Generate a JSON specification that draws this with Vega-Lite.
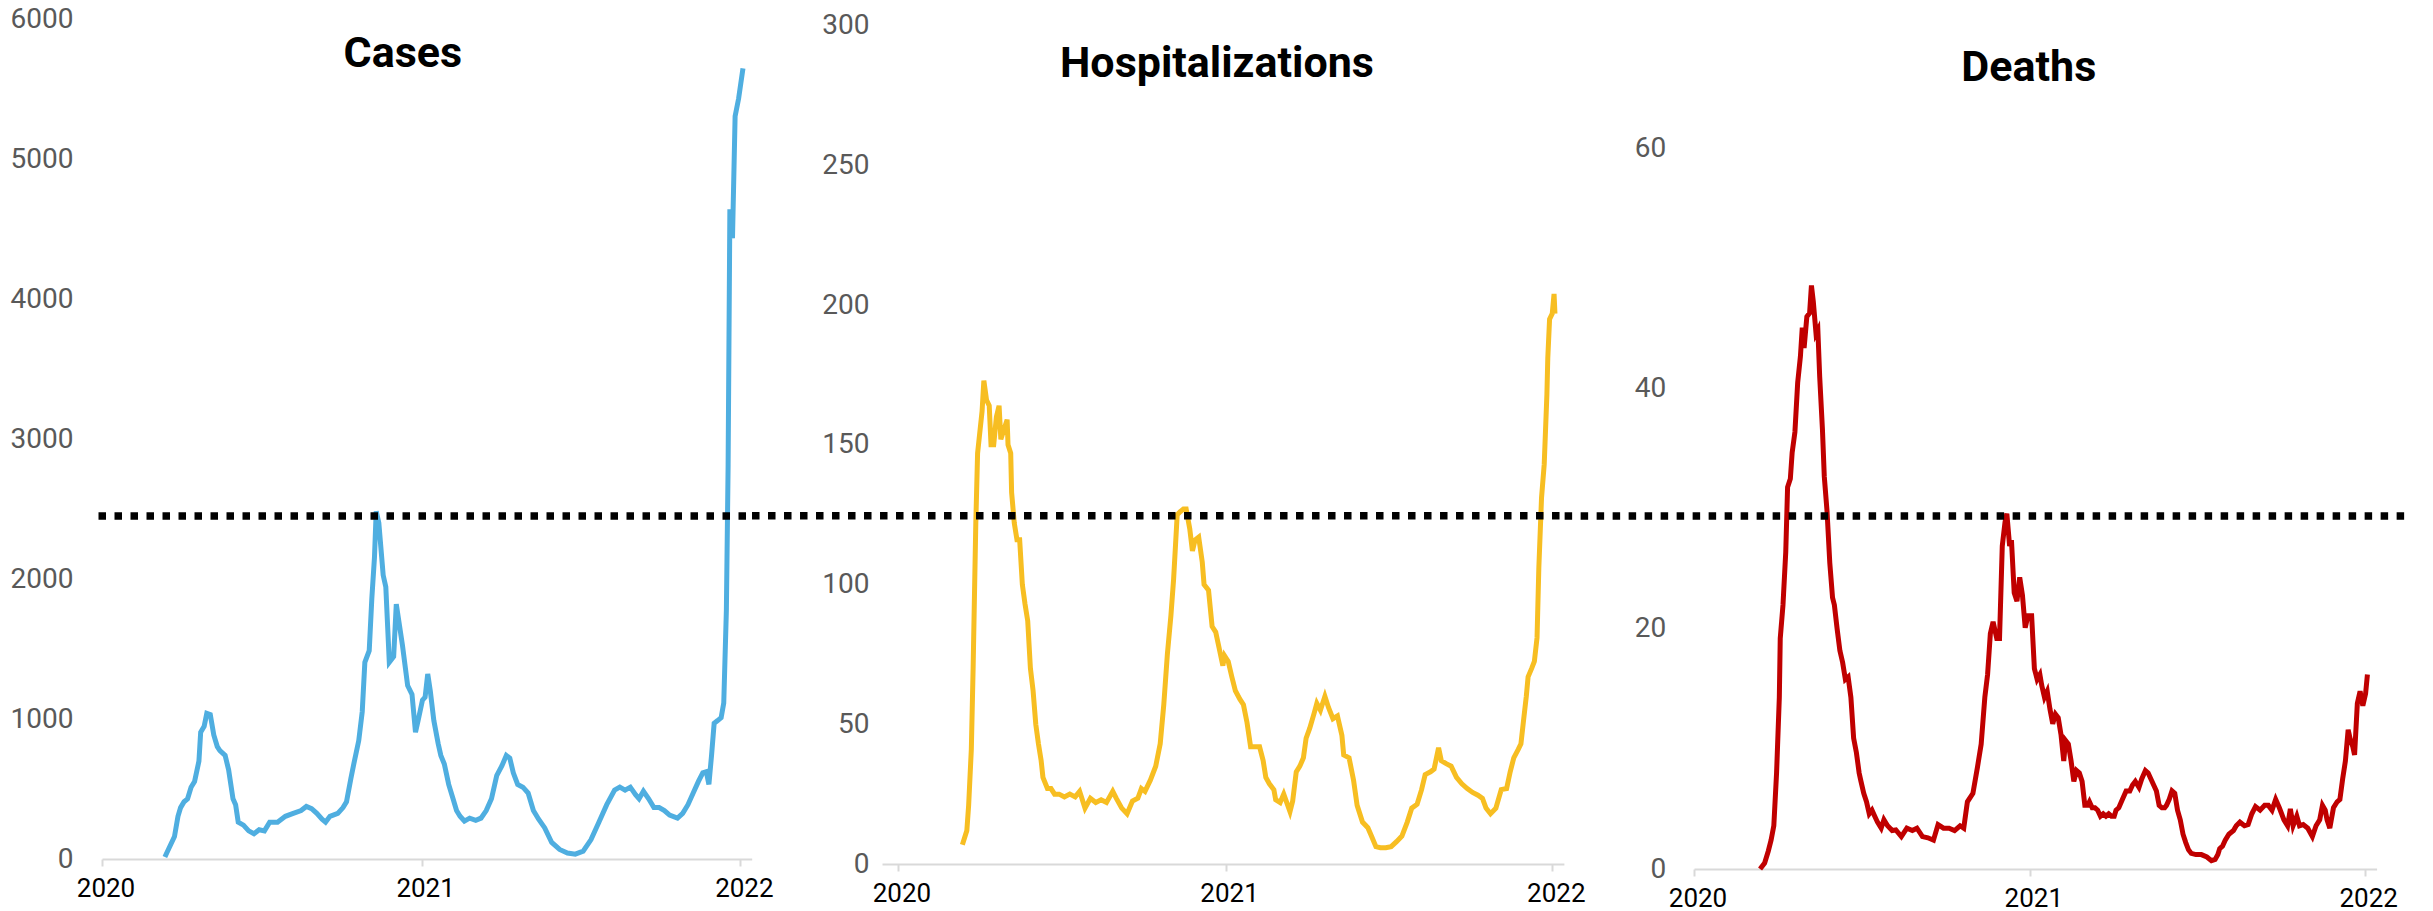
{
  "$schema": "https://vega.github.io/schema/vega-lite/v6.json",
  "background": "white",
  "padding": {"left": 10, "top": 5, "right": 5, "bottom": 5},
  "spacing": 130,
  "bounds": "flush",
  "config": {
    "view": {"stroke": null},
    "font": "Roboto",
    "axisX": {"domainColor": "#d9d9d9", "domainWidth": 2, "tickColor": "#d9d9d9", "tickWidth": 2, "tickSize": 7, "labelFontSize": 26, "labelColor": "#000000", "labelFlush": false, "labelPadding": 9, "labelOffset": 3.5, "grid": false, "format": "%Y", "labelFont": "Roboto"},
    "axisY": {"domain": false, "ticks": false, "grid": false, "labelFontSize": 28, "labelColor": "#595959", "labelFont": "Roboto", "format": "d"},
    "title": {"font": "Roboto", "fontSize": 43, "fontWeight": "bold", "color": "#000000", "anchor": "middle", "frame": "group", "baseline": "alphabetic", "offset": 0}
  },
  "datasets": {
    "thresholds": [
      {"panel": "Cases", "start": "2019-12-28", "end": "2022-01-14", "level": 2450.7},
      {"panel": "Hospitalizations", "start": "2019-07-22", "end": "2022-01-14", "level": 124.6},
      {"panel": "Deaths", "start": "2019-08-13", "end": "2022-02-16", "level": 29.41}
    ],
    "cases": [
      {"date": "2020-03-13", "value": 14}, {"date": "2020-03-17", "value": 68}, {"date": "2020-03-24", "value": 160}, {"date": "2020-03-28", "value": 305},
      {"date": "2020-03-31", "value": 367}, {"date": "2020-04-04", "value": 409}, {"date": "2020-04-08", "value": 430}, {"date": "2020-04-12", "value": 513},
      {"date": "2020-04-16", "value": 554}, {"date": "2020-04-21", "value": 699}, {"date": "2020-04-23", "value": 906}, {"date": "2020-04-27", "value": 948},
      {"date": "2020-04-30", "value": 1040}, {"date": "2020-05-04", "value": 1031}, {"date": "2020-05-08", "value": 886}, {"date": "2020-05-12", "value": 803},
      {"date": "2020-05-15", "value": 774}, {"date": "2020-05-21", "value": 740}, {"date": "2020-05-25", "value": 637}, {"date": "2020-05-27", "value": 554},
      {"date": "2020-05-30", "value": 430}, {"date": "2020-06-02", "value": 388}, {"date": "2020-06-05", "value": 263}, {"date": "2020-06-11", "value": 242},
      {"date": "2020-06-17", "value": 201}, {"date": "2020-06-23", "value": 180}, {"date": "2020-06-29", "value": 209}, {"date": "2020-07-05", "value": 201},
      {"date": "2020-07-11", "value": 263}, {"date": "2020-07-20", "value": 263}, {"date": "2020-07-29", "value": 305}, {"date": "2020-08-07", "value": 326},
      {"date": "2020-08-16", "value": 346}, {"date": "2020-08-22", "value": 375}, {"date": "2020-08-28", "value": 359}, {"date": "2020-09-03", "value": 326},
      {"date": "2020-09-09", "value": 284}, {"date": "2020-09-13", "value": 263}, {"date": "2020-09-18", "value": 305}, {"date": "2020-09-27", "value": 326},
      {"date": "2020-10-03", "value": 367}, {"date": "2020-10-07", "value": 409}, {"date": "2020-10-12", "value": 575}, {"date": "2020-10-16", "value": 699},
      {"date": "2020-10-21", "value": 845}, {"date": "2020-10-25", "value": 1052}, {"date": "2020-10-28", "value": 1405}, {"date": "2020-11-02", "value": 1488},
      {"date": "2020-11-05", "value": 1861}, {"date": "2020-11-08", "value": 2152}, {"date": "2020-11-10", "value": 2484}, {"date": "2020-11-13", "value": 2400},
      {"date": "2020-11-18", "value": 2027}, {"date": "2020-11-21", "value": 1944}, {"date": "2020-11-25", "value": 1405}, {"date": "2020-11-30", "value": 1446},
      {"date": "2020-12-03", "value": 1820}, {"date": "2020-12-06", "value": 1695}, {"date": "2020-12-10", "value": 1529}, {"date": "2020-12-16", "value": 1239},
      {"date": "2020-12-21", "value": 1176}, {"date": "2020-12-25", "value": 906}, {"date": "2020-12-28", "value": 989}, {"date": "2021-01-02", "value": 1135},
      {"date": "2021-01-05", "value": 1156}, {"date": "2021-01-08", "value": 1322}, {"date": "2021-01-11", "value": 1197}, {"date": "2021-01-15", "value": 989},
      {"date": "2021-01-20", "value": 823}, {"date": "2021-01-23", "value": 740}, {"date": "2021-01-27", "value": 678}, {"date": "2021-02-01", "value": 533},
      {"date": "2021-02-06", "value": 430}, {"date": "2021-02-10", "value": 346}, {"date": "2021-02-14", "value": 305}, {"date": "2021-02-19", "value": 271},
      {"date": "2021-02-25", "value": 292}, {"date": "2021-03-04", "value": 276}, {"date": "2021-03-10", "value": 292}, {"date": "2021-03-16", "value": 346},
      {"date": "2021-03-22", "value": 430}, {"date": "2021-03-28", "value": 595}, {"date": "2021-04-03", "value": 666}, {"date": "2021-04-08", "value": 740},
      {"date": "2021-04-12", "value": 720}, {"date": "2021-04-16", "value": 616}, {"date": "2021-04-21", "value": 533}, {"date": "2021-04-27", "value": 513},
      {"date": "2021-05-03", "value": 471}, {"date": "2021-05-09", "value": 346}, {"date": "2021-05-15", "value": 284}, {"date": "2021-05-22", "value": 222},
      {"date": "2021-05-30", "value": 118}, {"date": "2021-06-08", "value": 68}, {"date": "2021-06-17", "value": 43}, {"date": "2021-06-26", "value": 35},
      {"date": "2021-07-05", "value": 56}, {"date": "2021-07-14", "value": 139}, {"date": "2021-07-23", "value": 263}, {"date": "2021-08-01", "value": 388},
      {"date": "2021-08-10", "value": 492}, {"date": "2021-08-16", "value": 513}, {"date": "2021-08-22", "value": 492}, {"date": "2021-08-28", "value": 513},
      {"date": "2021-09-03", "value": 459}, {"date": "2021-09-07", "value": 430}, {"date": "2021-09-12", "value": 484}, {"date": "2021-09-18", "value": 430},
      {"date": "2021-09-24", "value": 367}, {"date": "2021-09-30", "value": 367}, {"date": "2021-10-06", "value": 346}, {"date": "2021-10-12", "value": 313},
      {"date": "2021-10-21", "value": 292}, {"date": "2021-10-27", "value": 326}, {"date": "2021-11-02", "value": 388}, {"date": "2021-11-08", "value": 471},
      {"date": "2021-11-14", "value": 554}, {"date": "2021-11-19", "value": 616}, {"date": "2021-11-23", "value": 624}, {"date": "2021-11-26", "value": 533},
      {"date": "2021-11-29", "value": 740}, {"date": "2021-12-02", "value": 969}, {"date": "2021-12-06", "value": 989}, {"date": "2021-12-10", "value": 1010},
      {"date": "2021-12-13", "value": 1114}, {"date": "2021-12-16", "value": 1778}, {"date": "2021-12-18", "value": 2815}, {"date": "2021-12-20", "value": 4641},
      {"date": "2021-12-23", "value": 4434}, {"date": "2021-12-26", "value": 5306}, {"date": "2021-12-30", "value": 5431}, {"date": "2022-01-04", "value": 5647}
    ],
    "hosp": [
      {"date": "2020-03-13", "value": 6.9}, {"date": "2020-03-18", "value": 12}, {"date": "2020-03-20", "value": 21}, {"date": "2020-03-23", "value": 41},
      {"date": "2020-03-25", "value": 70}, {"date": "2020-03-28", "value": 122}, {"date": "2020-03-30", "value": 147}, {"date": "2020-04-02", "value": 156},
      {"date": "2020-04-04", "value": 162}, {"date": "2020-04-06", "value": 173}, {"date": "2020-04-09", "value": 166}, {"date": "2020-04-12", "value": 164},
      {"date": "2020-04-14", "value": 150}, {"date": "2020-04-17", "value": 150}, {"date": "2020-04-20", "value": 160}, {"date": "2020-04-23", "value": 164},
      {"date": "2020-04-25", "value": 152}, {"date": "2020-04-29", "value": 156}, {"date": "2020-05-02", "value": 159}, {"date": "2020-05-03", "value": 150},
      {"date": "2020-05-06", "value": 147}, {"date": "2020-05-07", "value": 133}, {"date": "2020-05-10", "value": 122}, {"date": "2020-05-13", "value": 116},
      {"date": "2020-05-16", "value": 116}, {"date": "2020-05-19", "value": 100}, {"date": "2020-05-22", "value": 93}, {"date": "2020-05-25", "value": 87},
      {"date": "2020-05-28", "value": 70}, {"date": "2020-05-31", "value": 62}, {"date": "2020-06-03", "value": 50}, {"date": "2020-06-06", "value": 43},
      {"date": "2020-06-09", "value": 37}, {"date": "2020-06-11", "value": 31}, {"date": "2020-06-16", "value": 27}, {"date": "2020-06-20", "value": 27},
      {"date": "2020-06-24", "value": 25}, {"date": "2020-06-29", "value": 25}, {"date": "2020-07-05", "value": 24}, {"date": "2020-07-11", "value": 25},
      {"date": "2020-07-17", "value": 24}, {"date": "2020-07-22", "value": 26}, {"date": "2020-07-28", "value": 20}, {"date": "2020-08-03", "value": 23.5},
      {"date": "2020-08-09", "value": 22}, {"date": "2020-08-15", "value": 23}, {"date": "2020-08-21", "value": 22}, {"date": "2020-08-28", "value": 26},
      {"date": "2020-09-01", "value": 23.5}, {"date": "2020-09-07", "value": 20}, {"date": "2020-09-13", "value": 18}, {"date": "2020-09-19", "value": 22.5},
      {"date": "2020-09-25", "value": 23.5}, {"date": "2020-09-29", "value": 27}, {"date": "2020-10-03", "value": 26}, {"date": "2020-10-09", "value": 30},
      {"date": "2020-10-15", "value": 35}, {"date": "2020-10-20", "value": 43}, {"date": "2020-10-24", "value": 57}, {"date": "2020-10-28", "value": 75},
      {"date": "2020-11-01", "value": 89}, {"date": "2020-11-04", "value": 102}, {"date": "2020-11-08", "value": 125}, {"date": "2020-11-11", "value": 126},
      {"date": "2020-11-15", "value": 127}, {"date": "2020-11-18", "value": 127}, {"date": "2020-11-22", "value": 120}, {"date": "2020-11-25", "value": 112},
      {"date": "2020-11-28", "value": 116}, {"date": "2020-12-02", "value": 117}, {"date": "2020-12-06", "value": 108}, {"date": "2020-12-08", "value": 100},
      {"date": "2020-12-13", "value": 98}, {"date": "2020-12-17", "value": 85}, {"date": "2020-12-21", "value": 83}, {"date": "2020-12-25", "value": 77},
      {"date": "2020-12-29", "value": 71}, {"date": "2020-12-31", "value": 74.5}, {"date": "2021-01-04", "value": 72.5}, {"date": "2021-01-08", "value": 67},
      {"date": "2021-01-12", "value": 62}, {"date": "2021-01-17", "value": 59}, {"date": "2021-01-21", "value": 57}, {"date": "2021-01-25", "value": 50.6},
      {"date": "2021-01-29", "value": 42}, {"date": "2021-02-03", "value": 42}, {"date": "2021-02-08", "value": 42}, {"date": "2021-02-12", "value": 37},
      {"date": "2021-02-15", "value": 31}, {"date": "2021-02-19", "value": 28.7}, {"date": "2021-02-24", "value": 26.6}, {"date": "2021-02-26", "value": 23},
      {"date": "2021-03-03", "value": 22}, {"date": "2021-03-07", "value": 25}, {"date": "2021-03-11", "value": 21.4}, {"date": "2021-03-14", "value": 18.7},
      {"date": "2021-03-17", "value": 22.5}, {"date": "2021-03-21", "value": 33}, {"date": "2021-03-25", "value": 35}, {"date": "2021-03-29", "value": 38},
      {"date": "2021-04-01", "value": 45}, {"date": "2021-04-05", "value": 48.5}, {"date": "2021-04-10", "value": 54}, {"date": "2021-04-13", "value": 57.5},
      {"date": "2021-04-17", "value": 55}, {"date": "2021-04-22", "value": 60}, {"date": "2021-04-26", "value": 56}, {"date": "2021-05-01", "value": 52},
      {"date": "2021-05-06", "value": 53}, {"date": "2021-05-11", "value": 46}, {"date": "2021-05-13", "value": 39}, {"date": "2021-05-19", "value": 38},
      {"date": "2021-05-24", "value": 30}, {"date": "2021-05-28", "value": 21}, {"date": "2021-06-03", "value": 15}, {"date": "2021-06-09", "value": 13},
      {"date": "2021-06-13", "value": 10}, {"date": "2021-06-18", "value": 6.2}, {"date": "2021-06-23", "value": 5.8}, {"date": "2021-06-29", "value": 5.8},
      {"date": "2021-07-05", "value": 6.2}, {"date": "2021-07-11", "value": 8}, {"date": "2021-07-17", "value": 10}, {"date": "2021-07-23", "value": 15},
      {"date": "2021-07-28", "value": 20}, {"date": "2021-08-03", "value": 21.4}, {"date": "2021-08-08", "value": 26.6}, {"date": "2021-08-12", "value": 32},
      {"date": "2021-08-18", "value": 33}, {"date": "2021-08-22", "value": 34}, {"date": "2021-08-27", "value": 41.6}, {"date": "2021-08-30", "value": 37},
      {"date": "2021-09-04", "value": 36}, {"date": "2021-09-10", "value": 35}, {"date": "2021-09-16", "value": 31}, {"date": "2021-09-22", "value": 28.7},
      {"date": "2021-09-28", "value": 27}, {"date": "2021-10-04", "value": 25.6}, {"date": "2021-10-10", "value": 24.6}, {"date": "2021-10-15", "value": 23.5},
      {"date": "2021-10-19", "value": 20}, {"date": "2021-10-24", "value": 18}, {"date": "2021-10-30", "value": 20}, {"date": "2021-11-05", "value": 26.6},
      {"date": "2021-11-11", "value": 27}, {"date": "2021-11-15", "value": 33}, {"date": "2021-11-19", "value": 38}, {"date": "2021-11-24", "value": 41},
      {"date": "2021-11-27", "value": 43}, {"date": "2021-11-30", "value": 51.6}, {"date": "2021-12-03", "value": 60}, {"date": "2021-12-05", "value": 67},
      {"date": "2021-12-09", "value": 70}, {"date": "2021-12-12", "value": 72.5}, {"date": "2021-12-15", "value": 81}, {"date": "2021-12-17", "value": 106},
      {"date": "2021-12-20", "value": 131}, {"date": "2021-12-23", "value": 143}, {"date": "2021-12-26", "value": 168}, {"date": "2021-12-27", "value": 181},
      {"date": "2021-12-29", "value": 195}, {"date": "2022-01-01", "value": 197}, {"date": "2022-01-03", "value": 204}, {"date": "2022-01-04", "value": 197}
    ],
    "deaths": [
      {"date": "2020-03-13", "value": 0}, {"date": "2020-03-18", "value": 0.5}, {"date": "2020-03-22", "value": 1.5}, {"date": "2020-03-25", "value": 2.4},
      {"date": "2020-03-28", "value": 3.6}, {"date": "2020-03-31", "value": 8}, {"date": "2020-04-03", "value": 14.3}, {"date": "2020-04-04", "value": 19.2},
      {"date": "2020-04-07", "value": 22}, {"date": "2020-04-10", "value": 26.4}, {"date": "2020-04-12", "value": 31.8}, {"date": "2020-04-15", "value": 32.5},
      {"date": "2020-04-17", "value": 34.7}, {"date": "2020-04-20", "value": 36.4}, {"date": "2020-04-23", "value": 40.5}, {"date": "2020-04-26", "value": 42.7},
      {"date": "2020-04-28", "value": 45.1}, {"date": "2020-04-30", "value": 43.4}, {"date": "2020-05-03", "value": 46}, {"date": "2020-05-06", "value": 46.3},
      {"date": "2020-05-08", "value": 48.6}, {"date": "2020-05-10", "value": 47.3}, {"date": "2020-05-13", "value": 44.6}, {"date": "2020-05-15", "value": 44.9},
      {"date": "2020-05-17", "value": 41}, {"date": "2020-05-20", "value": 36.6}, {"date": "2020-05-22", "value": 32.7}, {"date": "2020-05-25", "value": 29.8},
      {"date": "2020-05-28", "value": 25.5}, {"date": "2020-05-31", "value": 22.6}, {"date": "2020-06-02", "value": 22}, {"date": "2020-06-05", "value": 20},
      {"date": "2020-06-08", "value": 18.2}, {"date": "2020-06-11", "value": 17.2}, {"date": "2020-06-14", "value": 15.8}, {"date": "2020-06-17", "value": 16},
      {"date": "2020-06-20", "value": 14.3}, {"date": "2020-06-23", "value": 10.9}, {"date": "2020-06-26", "value": 9.7}, {"date": "2020-06-29", "value": 8},
      {"date": "2020-07-01", "value": 7.3}, {"date": "2020-07-04", "value": 6.3}, {"date": "2020-07-07", "value": 5.6}, {"date": "2020-07-10", "value": 4.6},
      {"date": "2020-07-13", "value": 4.9}, {"date": "2020-07-16", "value": 4.4}, {"date": "2020-07-19", "value": 3.9}, {"date": "2020-07-23", "value": 3.4},
      {"date": "2020-07-26", "value": 4.1}, {"date": "2020-07-30", "value": 3.6}, {"date": "2020-08-04", "value": 3.2}, {"date": "2020-08-08", "value": 3.25},
      {"date": "2020-08-14", "value": 2.7}, {"date": "2020-08-20", "value": 3.4}, {"date": "2020-08-26", "value": 3.2}, {"date": "2020-08-31", "value": 3.4},
      {"date": "2020-09-06", "value": 2.7}, {"date": "2020-09-12", "value": 2.6}, {"date": "2020-09-18", "value": 2.4}, {"date": "2020-09-23", "value": 3.7},
      {"date": "2020-09-29", "value": 3.4}, {"date": "2020-10-05", "value": 3.4}, {"date": "2020-10-11", "value": 3.2}, {"date": "2020-10-17", "value": 3.6},
      {"date": "2020-10-21", "value": 3.4}, {"date": "2020-10-25", "value": 5.6}, {"date": "2020-10-31", "value": 6.3}, {"date": "2020-11-05", "value": 8.5},
      {"date": "2020-11-09", "value": 10.4}, {"date": "2020-11-13", "value": 14.3}, {"date": "2020-11-16", "value": 16.2}, {"date": "2020-11-19", "value": 19.6},
      {"date": "2020-11-22", "value": 20.6}, {"date": "2020-11-26", "value": 19.2}, {"date": "2020-11-29", "value": 19.2}, {"date": "2020-12-02", "value": 26.9},
      {"date": "2020-12-05", "value": 28.9}, {"date": "2020-12-07", "value": 29.6}, {"date": "2020-12-10", "value": 26.9}, {"date": "2020-12-12", "value": 27.4},
      {"date": "2020-12-15", "value": 23}, {"date": "2020-12-18", "value": 22.3}, {"date": "2020-12-21", "value": 24.3}, {"date": "2020-12-24", "value": 22.8},
      {"date": "2020-12-27", "value": 20.1}, {"date": "2020-12-30", "value": 21.1}, {"date": "2021-01-03", "value": 21.1}, {"date": "2021-01-06", "value": 16.7},
      {"date": "2021-01-09", "value": 15.8}, {"date": "2021-01-12", "value": 16.2}, {"date": "2021-01-14", "value": 15.3}, {"date": "2021-01-17", "value": 14.3},
      {"date": "2021-01-20", "value": 14.8}, {"date": "2021-01-23", "value": 13.3}, {"date": "2021-01-26", "value": 12.1}, {"date": "2021-01-29", "value": 12.9},
      {"date": "2021-02-01", "value": 12.6}, {"date": "2021-02-04", "value": 11.2}, {"date": "2021-02-07", "value": 9}, {"date": "2021-02-09", "value": 10.7},
      {"date": "2021-02-12", "value": 10.4}, {"date": "2021-02-15", "value": 9}, {"date": "2021-02-18", "value": 7.3}, {"date": "2021-02-21", "value": 8.2},
      {"date": "2021-02-24", "value": 8}, {"date": "2021-02-27", "value": 7.3}, {"date": "2021-03-02", "value": 5.3}, {"date": "2021-03-05", "value": 5.3},
      {"date": "2021-03-07", "value": 5.6}, {"date": "2021-03-10", "value": 5.1}, {"date": "2021-03-13", "value": 5.1}, {"date": "2021-03-16", "value": 4.9},
      {"date": "2021-03-19", "value": 4.4}, {"date": "2021-03-22", "value": 4.6}, {"date": "2021-03-25", "value": 4.4}, {"date": "2021-03-28", "value": 4.6},
      {"date": "2021-03-31", "value": 4.4}, {"date": "2021-04-03", "value": 4.4}, {"date": "2021-04-05", "value": 4.9}, {"date": "2021-04-08", "value": 5.1},
      {"date": "2021-04-12", "value": 5.8}, {"date": "2021-04-16", "value": 6.5}, {"date": "2021-04-20", "value": 6.5}, {"date": "2021-04-23", "value": 7},
      {"date": "2021-04-26", "value": 7.3}, {"date": "2021-04-30", "value": 6.8}, {"date": "2021-05-03", "value": 7.5}, {"date": "2021-05-07", "value": 8.2},
      {"date": "2021-05-10", "value": 8}, {"date": "2021-05-13", "value": 7.5}, {"date": "2021-05-16", "value": 7}, {"date": "2021-05-19", "value": 6.5},
      {"date": "2021-05-22", "value": 5.3}, {"date": "2021-05-25", "value": 5.1}, {"date": "2021-05-28", "value": 5.1}, {"date": "2021-05-30", "value": 5.3},
      {"date": "2021-06-02", "value": 5.8}, {"date": "2021-06-05", "value": 6.5}, {"date": "2021-06-08", "value": 6.3}, {"date": "2021-06-11", "value": 4.9},
      {"date": "2021-06-14", "value": 4.1}, {"date": "2021-06-17", "value": 2.9}, {"date": "2021-06-20", "value": 2.2}, {"date": "2021-06-23", "value": 1.6},
      {"date": "2021-06-26", "value": 1.3}, {"date": "2021-07-01", "value": 1.2}, {"date": "2021-07-07", "value": 1.2}, {"date": "2021-07-13", "value": 1.0},
      {"date": "2021-07-18", "value": 0.7}, {"date": "2021-07-22", "value": 0.8}, {"date": "2021-07-25", "value": 1.2}, {"date": "2021-07-27", "value": 1.7},
      {"date": "2021-07-30", "value": 1.9}, {"date": "2021-08-02", "value": 2.4}, {"date": "2021-08-06", "value": 2.9}, {"date": "2021-08-11", "value": 3.2},
      {"date": "2021-08-14", "value": 3.6}, {"date": "2021-08-18", "value": 3.9}, {"date": "2021-08-23", "value": 3.6}, {"date": "2021-08-27", "value": 3.7},
      {"date": "2021-08-31", "value": 4.6}, {"date": "2021-09-04", "value": 5.2}, {"date": "2021-09-09", "value": 4.9}, {"date": "2021-09-14", "value": 5.3},
      {"date": "2021-09-18", "value": 5.3}, {"date": "2021-09-22", "value": 4.9}, {"date": "2021-09-26", "value": 5.8}, {"date": "2021-09-30", "value": 5.1},
      {"date": "2021-10-05", "value": 4.1}, {"date": "2021-10-09", "value": 3.6}, {"date": "2021-10-12", "value": 5}, {"date": "2021-10-15", "value": 3.6},
      {"date": "2021-10-19", "value": 4.4}, {"date": "2021-10-22", "value": 3.6}, {"date": "2021-10-26", "value": 3.7}, {"date": "2021-10-31", "value": 3.4},
      {"date": "2021-11-05", "value": 2.7}, {"date": "2021-11-09", "value": 3.6}, {"date": "2021-11-13", "value": 4.1}, {"date": "2021-11-16", "value": 5.3},
      {"date": "2021-11-19", "value": 4.9}, {"date": "2021-11-21", "value": 4.1}, {"date": "2021-11-24", "value": 3.4}, {"date": "2021-11-28", "value": 5.1},
      {"date": "2021-12-02", "value": 5.6}, {"date": "2021-12-05", "value": 5.8}, {"date": "2021-12-08", "value": 7.5}, {"date": "2021-12-11", "value": 9},
      {"date": "2021-12-14", "value": 11.6}, {"date": "2021-12-16", "value": 10.9}, {"date": "2021-12-19", "value": 10.2}, {"date": "2021-12-21", "value": 9.5},
      {"date": "2021-12-24", "value": 13.8}, {"date": "2021-12-27", "value": 14.8}, {"date": "2021-12-30", "value": 13.6}, {"date": "2022-01-02", "value": 14.6},
      {"date": "2022-01-04", "value": 16.2}
    ]
  },
  "hconcat": [
    {
      "width": 649.7,
      "height": 840,
      "title": {"text": "Cases", "dx": -24, "dy": 75},
      "layer": [
        {
          "data": {"name": "cases"},
          "mark": {"type": "line", "color": "#4FAEE0", "strokeWidth": 5},
          "encoding": {
            "x": {"field": "date", "type": "temporal", "scale": {"type": "utc", "nice": false, "domain": [{"year": 2020, "month": 1, "date": 1, "utc": true}, {"year": 2022, "month": 1, "date": 14, "utc": true}]},
                  "axis": {"title": null, "values": [{"year": 2020, "month": 1, "date": 1, "utc": true}, {"year": 2021, "month": 1, "date": 1, "utc": true}, {"year": 2022, "month": 1, "date": 1, "utc": true}]}},
            "y": {"field": "value", "type": "quantitative", "scale": {"domain": [0, 6000], "nice": false, "zero": false}, "axis": {"title": null, "values": [0, 1000, 2000, 3000, 4000, 5000, 6000], "labelPadding": 29}}
          }
        },
        {
          "data": {"name": "thresholds"},
          "transform": [{"filter": "datum.panel == 'Cases'"}],
          "mark": {"type": "rule", "color": "#000000", "strokeWidth": 7.5, "strokeDash": [7.5, 8.5]},
          "encoding": {
            "x": {"field": "start", "type": "temporal"},
            "x2": {"field": "end"},
            "y": {"field": "level", "type": "quantitative"}
          }
        }
      ]
    },
    {
      "width": 681.9,
      "height": 845,
      "title": {"text": "Hospitalizations", "dx": -6, "dy": 78},
      "layer": [
        {
          "data": {"name": "hosp"},
          "mark": {"type": "line", "color": "#F7BE22", "strokeWidth": 5},
          "encoding": {
            "x": {"field": "date", "type": "temporal", "scale": {"type": "utc", "nice": false, "domain": [{"year": 2019, "month": 12, "date": 14, "hours": 5, "utc": true}, {"year": 2022, "month": 1, "date": 14, "utc": true}]},
                  "axis": {"title": null, "values": [{"year": 2020, "month": 1, "date": 1, "utc": true}, {"year": 2021, "month": 1, "date": 1, "utc": true}, {"year": 2022, "month": 1, "date": 1, "utc": true}]}},
            "y": {"field": "value", "type": "quantitative", "scale": {"domain": [0, 302.4], "nice": false, "zero": false}, "axis": {"title": null, "values": [0, 50, 100, 150, 200, 250, 300], "labelPadding": 13.1}}
          }
        },
        {
          "data": {"name": "thresholds"},
          "transform": [{"filter": "datum.panel == 'Hospitalizations'"}],
          "mark": {"type": "rule", "color": "#000000", "strokeWidth": 7.5, "strokeDash": [7.5, 8.5]},
          "encoding": {
            "x": {"field": "start", "type": "temporal"},
            "x2": {"field": "end"},
            "y": {"field": "level", "type": "quantitative"}
          }
        }
      ]
    },
    {
      "width": 682.6,
      "height": 850,
      "title": {"text": "Deaths", "dx": -6.5, "dy": 75},
      "layer": [
        {
          "data": {"name": "deaths"},
          "mark": {"type": "line", "color": "#C00000", "strokeWidth": 5},
          "encoding": {
            "x": {"field": "date", "type": "temporal", "scale": {"type": "utc", "nice": false, "domain": [{"year": 2020, "month": 1, "date": 1, "utc": true}, {"year": 2022, "month": 1, "date": 14, "utc": true}]},
                  "axis": {"title": null, "values": [{"year": 2020, "month": 1, "date": 1, "utc": true}, {"year": 2021, "month": 1, "date": 1, "utc": true}, {"year": 2022, "month": 1, "date": 1, "utc": true}]}},
            "y": {"field": "value", "type": "quantitative", "scale": {"domain": [0, 70.8], "nice": false, "zero": false}, "axis": {"title": null, "values": [0, 20, 40, 60], "labelPadding": 28.3}}
          }
        },
        {
          "data": {"name": "thresholds"},
          "transform": [{"filter": "datum.panel == 'Deaths'"}],
          "mark": {"type": "rule", "color": "#000000", "strokeWidth": 7.5, "strokeDash": [7.5, 8.5]},
          "encoding": {
            "x": {"field": "start", "type": "temporal"},
            "x2": {"field": "end"},
            "y": {"field": "level", "type": "quantitative"}
          }
        }
      ]
    }
  ]
}
